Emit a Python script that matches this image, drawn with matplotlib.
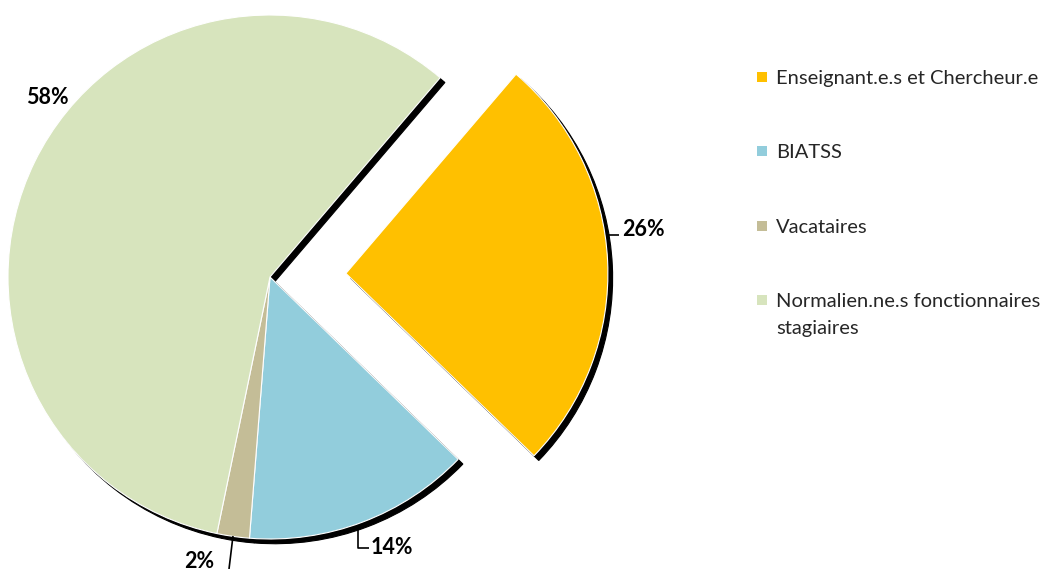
import matplotlib
matplotlib.use('Agg')
import matplotlib.pyplot as plt
from matplotlib.patches import Rectangle

# donnees
categories = ['Enseignant.e.s et Chercheur.e', 'BIATSS', 'Vacataires',
              'Normalien.ne.s fonctionnaires\nstagiaires']
valeurs = [26, 14, 2, 58]
couleurs = ['#FFC000', '#92CDDC', '#C4BD97', '#D7E4BD']
eclate = [0.29, 0, 0, 0]

plt.rcParams['font.family'] = ['Lato', 'DejaVu Sans']

W, H = 1049, 569
R = 262.0          # rayon en pixels
cx, cy = 270, 277  # centre en pixels (depuis le haut)

fig = plt.figure(figsize=(W / 100, H / 100), dpi=100)
ax = fig.add_axes([0, 0, 1, 1])

wedges, _ = ax.pie(valeurs, colors=couleurs, explode=eclate, startangle=49.5,
                   counterclock=False, radius=1,
                   wedgeprops={'linewidth': 0.8, 'edgecolor': 'white'},
                   shadow={'ox': 0.013, 'oy': -0.013, 'shade': 1.0, 'alpha': 1.0})

ax.set_xlim(-cx / R, (W - cx) / R)
ax.set_ylim(-(H - cy) / R, cy / R)
ax.set_aspect('auto')
ax.axis('off')


def px(x, y):
    return ((x - cx) / R, (cy - y) / R)


# etiquettes (position du texte, ligne de rappel)
etiquettes = [
    {'xy': (622, 230), 'ha': 'left', 'ligne': [(607, 235), (619, 235)]},
    {'xy': (371, 547), 'ha': 'left', 'ligne': [(358, 525), (358, 548), (369, 548)]},
    {'xy': (199, 562), 'ha': 'center', 'ligne': [(233, 536), (229, 569)]},
    {'xy': (47, 97), 'ha': 'center', 'ligne': None},
]

for v, et in zip(valeurs, etiquettes):
    x, y = px(*et['xy'])
    ax.text(x, y, f'{v:.0f}%', ha=et['ha'], va='center', fontsize=15.5,
            fontweight='bold', color='black')
    if et['ligne']:
        pts = [px(a, b) for a, b in et['ligne']]
        ax.plot([p[0] for p in pts], [p[1] for p in pts], color='black', lw=1.2,
                solid_capstyle='butt')

# legende
for i, (lab, col) in enumerate(zip(categories, couleurs)):
    yc = 77 + i * 74.4
    fig.patches.append(Rectangle((757 / W, 1 - (yc + 5) / H), 10 / W, 10 / H,
                                 transform=fig.transFigure, facecolor=col,
                                 edgecolor='none'))
    for j, ligne in enumerate(lab.split('\n')):
        fig.text(776 / W, 1 - (yc + 7 + 27 * j) / H, ligne, ha='left',
                 va='baseline', fontsize=14.5, color='#262626')

fig.savefig('out.png', dpi=100)
